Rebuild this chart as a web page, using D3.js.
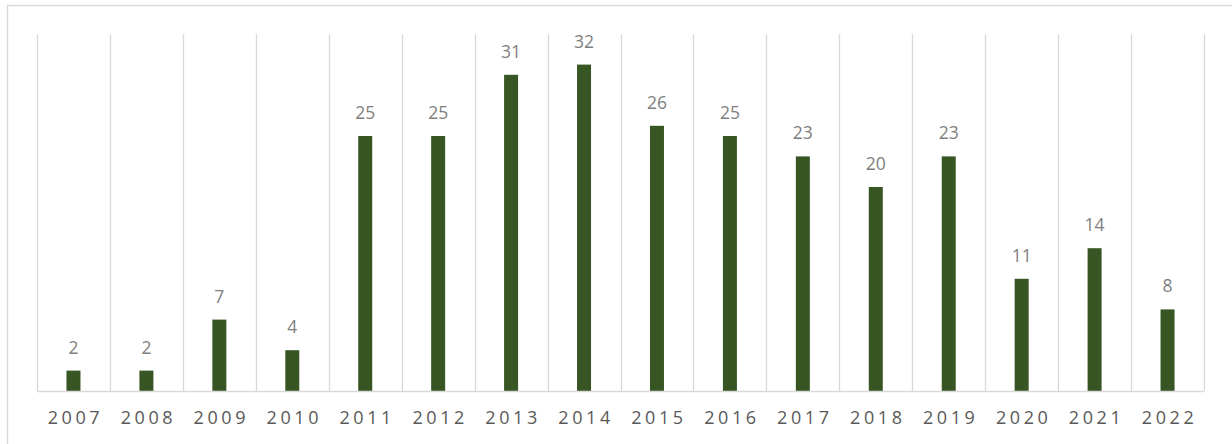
<!DOCTYPE html>
<html>
<head>
<meta charset="utf-8">
<script src="https://cdn.jsdelivr.net/npm/d3@7"></script>
<style>
  body { margin: 0; background: #fff; }
  svg { display: block; }
</style>
</head>
<body>
<div id="chart"></div>
<script>
// data
var years = ["2007", "2008", "2009", "2010", "2011", "2012", "2013", "2014",
             "2015", "2016", "2017", "2018", "2019", "2020", "2021", "2022"];
var counts = [2, 2, 7, 4, 25, 25, 31, 32, 26, 25, 23, 20, 23, 11, 14, 8];

var W = 1232, H = 444;
var margin = { top: 34, left: 37, right: 28, bottom: 53 },
    width = W - margin.left - margin.right,
    height = H - margin.top - margin.bottom;

var svg = d3.select("#chart").append("svg")
  .attr("width", W)
  .attr("height", H);

// outer chart frame (right and bottom run off the picture)
svg.append("rect")
  .attr("x", 7.5).attr("y", 5.5)
  .attr("width", W).attr("height", H)
  .attr("fill", "none")
  .attr("stroke", "#d9d9d9")
  .attr("stroke-width", 1.5);

var g = svg.append("g")
  .attr("transform", "translate(" + margin.left + "," + margin.top + ")");

var x = d3.scaleBand().domain(years).range([0, width]).paddingInner(0).paddingOuter(0);
var y = d3.scaleLinear().domain([0, 35]).range([height, 0]);

// vertical category dividers
var edges = years.map(function(d) { return x(d); }).concat([width]);
g.selectAll(".grid")
  .data(edges)
  .enter().append("line")
  .attr("class", "grid")
  .attr("x1", function(d) { return Math.round(d) + 0.5; })
  .attr("x2", function(d) { return Math.round(d) + 0.5; })
  .attr("y1", 0)
  .attr("y2", height)
  .attr("stroke", "#d9d9d9")
  .attr("stroke-width", 1.3);

var barW = 14;
g.selectAll(".bar")
  .data(counts)
  .enter().append("rect")
  .attr("class", "bar")
  .attr("x", function(d, i) { return x(years[i]) + x.bandwidth() / 2 - barW / 2; })
  .attr("y", function(d) { return y(d); })
  .attr("width", barW)
  .attr("height", function(d) { return height - y(d); })
  .attr("fill", "#375623");

// baseline axis
var xAxis = g.append("g")
  .attr("transform", "translate(0," + height + ")")
  .call(d3.axisBottom(x).tickSize(0).tickPadding(0));
xAxis.select(".domain").attr("stroke", "#d9d9d9").attr("stroke-width", 1.3)
  .attr("d", "M0,0.5H" + width);
xAxis.selectAll("text")
  .attr("y", 33)
  .attr("dy", 0)
  .attr("dx", 2)
  .style("font-family", "'Open Sans', sans-serif")
  .style("font-size", "18px")
  .style("letter-spacing", "3.6px")
  .attr("fill", "#595959");

// value labels
g.selectAll(".lbl")
  .data(counts)
  .enter().append("text")
  .attr("class", "lbl")
  .attr("x", function(d, i) { return x(years[i]) + x.bandwidth() / 2; })
  .attr("y", function(d) { return y(d) - 17; })
  .attr("text-anchor", "middle")
  .style("font-family", "'Open Sans', sans-serif")
  .style("font-size", "17.5px")
  .attr("fill", "#7f7f7f")
  .text(function(d) { return d; });
</script>
</body>
</html>
